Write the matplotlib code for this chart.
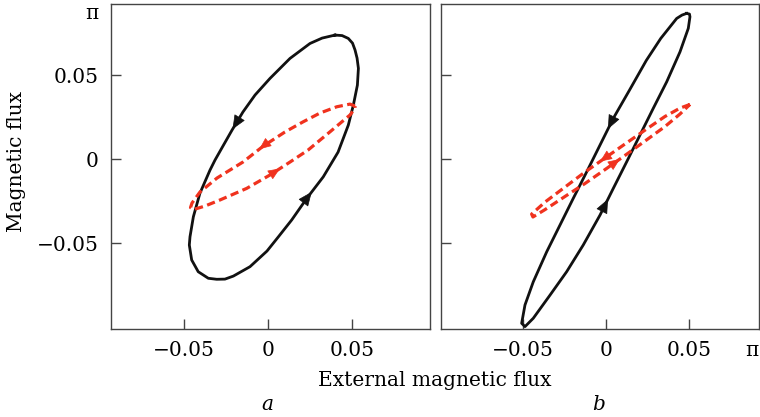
import matplotlib.pyplot as plt

plt.rcParams['font.family'] = ['DejaVu Serif']

# panel a, black loop (x, y): top -> left side down -> bottom -> right side up
a_black_x = [0.0397, 0.0320, 0.0248, 0.0129, 0.0010, -0.0079, -0.0151, -0.0216,
             -0.0270, -0.0317, -0.0347, -0.0407, -0.0446, -0.0466, -0.0470, -0.0456,
             -0.0417, -0.0357, -0.0307, -0.0258, -0.0208, -0.0109, -0.0008, 0.0060,
             0.0139, 0.0229, 0.0327, 0.0415, 0.0476, 0.0506, 0.0530, 0.0536,
             0.0528, 0.0516, 0.0501, 0.0476, 0.0439, 0.0397]
a_black_y = [0.0740, 0.0722, 0.0690, 0.0601, 0.0482, 0.0383, 0.0282, 0.0174,
             0.0079, -0.0004, -0.0064, -0.0202, -0.0342, -0.0461, -0.0510, -0.0599,
             -0.0669, -0.0708, -0.0714, -0.0713, -0.0695, -0.0639, -0.0546, -0.0461,
             -0.0361, -0.0232, -0.0104, 0.0043, 0.0204, 0.0323, 0.0442, 0.0542,
             0.0603, 0.0651, 0.0692, 0.0720, 0.0737, 0.0740]

# panel a, red loop: right tip -> upper branch -> left tip -> lower branch
a_red_x = [0.0516, 0.0486, 0.0407, 0.0308, 0.0208, 0.0099, -0.0030, -0.0151,
           -0.0305, -0.0407, -0.0454, -0.0463, -0.0446, -0.0377, -0.0288, -0.0129,
           0.0010, 0.0129, 0.0236, 0.0367, 0.0486, 0.0516, 0.0516]
a_red_y = [0.0317, 0.0329, 0.0313, 0.0276, 0.0224, 0.0163, 0.0079, -0.0016,
           -0.0111, -0.0195, -0.0260, -0.0287, -0.0299, -0.0278, -0.0242, -0.0173,
           -0.0093, -0.0016, 0.0055, 0.0164, 0.0264, 0.0304, 0.0317]

# panel b, black loop
b_black_x = [0.0486, 0.0458, 0.0426, 0.0330, 0.0243, 0.0141, 0.0044, -0.0036,
             -0.0116, -0.0197, -0.0277, -0.0357, -0.0438, -0.0488, -0.0508, -0.0488,
             -0.0438, -0.0337, -0.0237, -0.0137, -0.0036, 0.0044, 0.0125, 0.0205,
             0.0285, 0.0366, 0.0446, 0.0496, 0.0506, 0.0503, 0.0486]
b_black_y = [0.0869, 0.0859, 0.0839, 0.0720, 0.0589, 0.0411, 0.0244, 0.0085,
             -0.0074, -0.0232, -0.0391, -0.0550, -0.0729, -0.0867, -0.0976, -0.0996,
             -0.0946, -0.0808, -0.0669, -0.0510, -0.0332, -0.0173, -0.0014, 0.0145,
             0.0304, 0.0462, 0.0640, 0.0780, 0.0849, 0.0865, 0.0869]

# panel b, red loop
b_red_x = [0.0506, 0.0446, 0.0355, 0.0235, 0.0114, -0.0006, -0.0127, -0.0247,
           -0.0367, -0.0448, -0.0440, -0.0367, -0.0247, -0.0127, -0.0006, 0.0114,
           0.0235, 0.0355, 0.0446, 0.0506]
b_red_y = [0.0327, 0.0305, 0.0255, 0.0174, 0.0091, 0.0008, -0.0076, -0.0165,
           -0.0254, -0.0326, -0.0343, -0.0299, -0.0221, -0.0144, -0.0061, 0.0023,
           0.0109, 0.0195, 0.0270, 0.0327]

# arrows: (segment index, fraction along segment)
a_black_arrows = [(6, 0.95), (25, 0.3)]
a_red_arrows = [(6, 0.2), (16, 0.5)]
b_black_arrows = [(6, 0.4), (20, 0.6)]
b_red_arrows = [(5, 0.25), (14, 0.75)]

ticks = [-0.05, 0, 0.05]
tick_labels = ['\u22120.05', '0', '0.05']

BLACK = '#111111'
RED = '#f0321e'
SPINE = '#444444'


def add_arrows(ax, xs, ys, arrows, color, size):
    for i, f in arrows:
        dx = xs[i + 1] - xs[i]
        dy = ys[i + 1] - ys[i]
        tip = (xs[i] + f * dx, ys[i] + f * dy)
        tail = (tip[0] - 0.05 * dx, tip[1] - 0.05 * dy)
        ax.annotate('', xy=tip, xytext=tail,
                    arrowprops=dict(arrowstyle='-|>,head_length=0.7,head_width=0.3',
                                    color=color, lw=0.5, mutation_scale=size,
                                    shrinkA=0, shrinkB=0))


def style_axis(ax, xlim):
    ax.set_xlim(*xlim)
    ax.set_ylim(-0.101, 0.0925)
    for s in ax.spines.values():
        s.set_color(SPINE)
        s.set_linewidth(1.0)
    ax.tick_params(direction='in', length=7, width=1, color=SPINE,
                   top=False, right=False, labelsize=14.5, pad=9)


fig = plt.figure(figsize=(7.6, 4.17), dpi=100)
ax1 = fig.add_axes([111 / 760, 88 / 417, 319 / 760, 325 / 417])
ax2 = fig.add_axes([441 / 760, 88 / 417, 318 / 760, 325 / 417])

style_axis(ax1, (-0.0936, 0.0962))
style_axis(ax2, (-0.0994, 0.0922))

# panel a
ax1.plot(a_black_x, a_black_y, color=BLACK, lw=2.0, solid_joinstyle='round')
ax1.plot(a_red_x, a_red_y, color=RED, lw=2.3, linestyle=(0, (2.6, 1.4)))
add_arrows(ax1, a_black_x, a_black_y, a_black_arrows, BLACK, 13)
add_arrows(ax1, a_red_x, a_red_y, a_red_arrows, RED, 11)

# panel b
ax2.plot(b_black_x, b_black_y, color=BLACK, lw=2.0, solid_joinstyle='round')
ax2.plot(b_red_x, b_red_y, color=RED, lw=2.3, linestyle=(0, (2.6, 1.4)))
add_arrows(ax2, b_black_x, b_black_y, b_black_arrows, BLACK, 13)
add_arrows(ax2, b_red_x, b_red_y, b_red_arrows, RED, 11)

# ticks
ax1.set_xticks(ticks)
ax1.set_xticklabels(tick_labels)
ax1.set_yticks(ticks + [0.0925])
ax1.set_yticklabels(tick_labels + ['\u03c0'])
ax1.get_yticklabels()[-1].set_verticalalignment('top')
ax1.yaxis.get_major_ticks()[-1].tick1line.set_visible(False)

ax2.set_xticks(ticks + [0.0922])
ax2.set_xticklabels(tick_labels + ['\u03c0'])
ax2.get_xticklabels()[-1].set_horizontalalignment('right')
ax2.xaxis.get_major_ticks()[-1].tick1line.set_visible(False)
ax2.set_yticks(ticks)
ax2.set_yticklabels([])

fig.text(17 / 760, 1 - 162 / 417, 'Magnetic flux', rotation=90,
         ha='center', va='center', fontsize=14.5)
fig.text(435 / 760, 1 - 381 / 417, 'External magnetic flux',
         ha='center', va='center', fontsize=14.5)
fig.text(267 / 760, 1 - 405 / 417, 'a', style='italic',
         ha='center', va='center', fontsize=14.5)
fig.text(599 / 760, 1 - 405 / 417, 'b', style='italic',
         ha='center', va='center', fontsize=14.5)

fig.savefig('out.png', dpi=100)
